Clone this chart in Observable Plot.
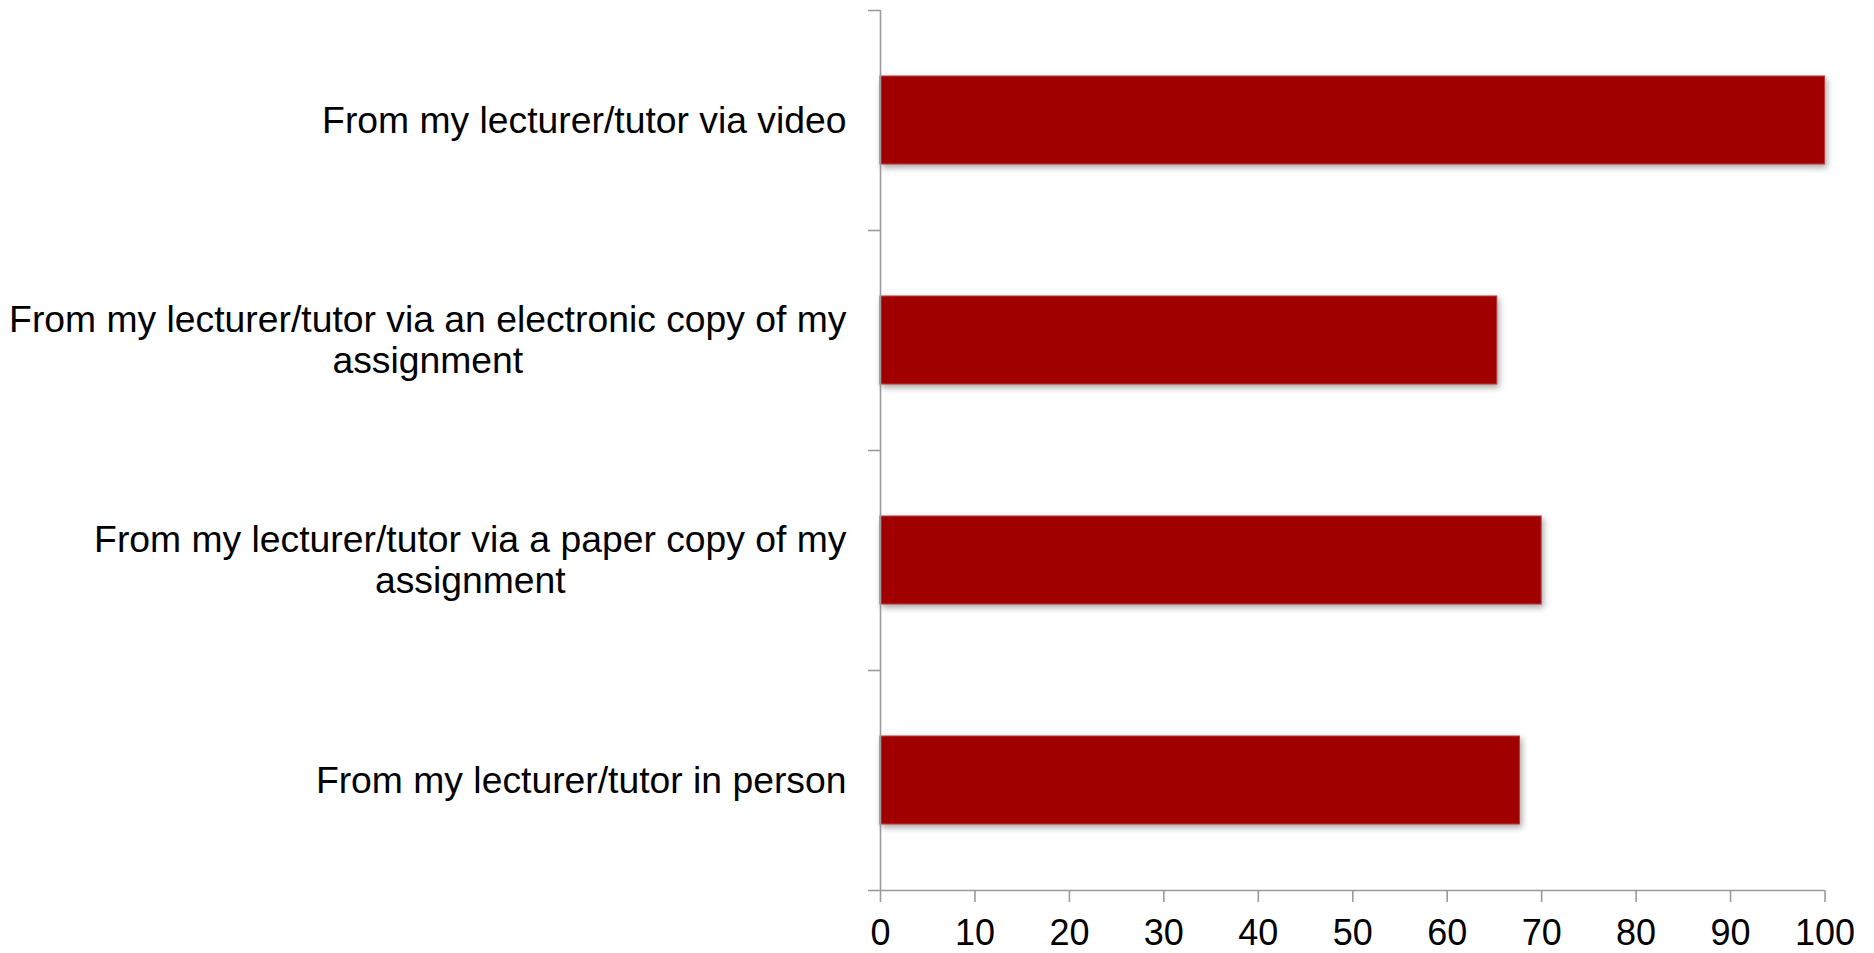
<!DOCTYPE html>
<html>
<head>
<meta charset="utf-8">
<script src="https://cdn.jsdelivr.net/npm/d3@7"></script>
<script src="https://cdn.jsdelivr.net/npm/@observablehq/plot@0.6"></script>
<style>
  html, body { margin: 0; padding: 0; background: #fff; }
  #chart svg { display: block; }
</style>
</head>
<body>
<div id="chart"></div>
<script>
const categories = [
  "From my lecturer/tutor via video",
  "From my lecturer/tutor via an electronic copy of my\nassignment",
  "From my lecturer/tutor via a paper copy of my\nassignment",
  "From my lecturer/tutor in person"
];
const values = [100, 65.3, 70, 67.7];
const xTicks = [0, 10, 20, 30, 40, 50, 60, 70, 80, 90, 100];

const data = categories.map((label, i) => ({label, value: values[i], pos: i}));

const FONT = "Liberation Sans, Arial, Helvetica, sans-serif";
const FS = 37.3;
const TICK_FS = 36;
const axisColor = "#9a9a9a";
const barPad = 0.3;
const labelGap = 34;

const ctx = document.createElement("canvas").getContext("2d");
ctx.font = `${FS}px "Liberation Sans", Arial, sans-serif`;
function firstLineWidth(s) { return ctx.measureText(s.split("\n")[0]).width; }

const labelMarks = data.map(d => Plot.text([d], {
  x: () => 0,
  y: r => r.pos + 0.5,
  text: "label",
  textAnchor: "middle",
  lineAnchor: "middle",
  lineHeight: 1.09,
  fontSize: FS,
  fill: "black",
  dx: -labelGap - firstLineWidth(d.label) / 2,
  dy: -1
}));

const chart = Plot.plot({
  width: 1874,
  height: 953,
  marginLeft: 880,
  marginRight: 49.5,
  marginTop: 10,
  marginBottom: 63,
  style: {fontFamily: FONT, fontSize: FS + "px", color: "black", background: "white"},
  x: {domain: [0, 100], axis: null},
  y: {domain: [0, categories.length], reverse: true, axis: null},
  marks: [
    Plot.rect(data, {
      x1: () => 0,
      x2: "value",
      y1: d => d.pos + barPad,
      y2: d => d.pos + 1 - barPad,
      fill: "#a00000",
      stroke: "#b93a3a",
      strokeWidth: 1
    }),
    Plot.ruleX([0], {stroke: axisColor, strokeWidth: 1.6}),
    Plot.ruleY([categories.length], {stroke: axisColor, strokeWidth: 1.6}),
    Plot.axisY({
      ticks: d3.range(0, categories.length + 1),
      tickSize: 12,
      tickFormat: () => "",
      label: null,
      stroke: axisColor,
      strokeWidth: 1.6
    }),
    Plot.axisX({
      ticks: xTicks,
      anchor: "bottom",
      tickSize: 12,
      tickPadding: 17,
      fontSize: TICK_FS,
      label: null,
      stroke: axisColor,
      strokeWidth: 1.6,
      fill: "black"
    }),
    ...labelMarks
  ]
});

document.getElementById("chart").appendChild(chart);
chart.querySelectorAll('g[aria-label="rect"]').forEach(g => {
  g.style.filter = "drop-shadow(2px 3px 3px rgba(0,0,0,0.35))";
});
</script>
</body>
</html>
